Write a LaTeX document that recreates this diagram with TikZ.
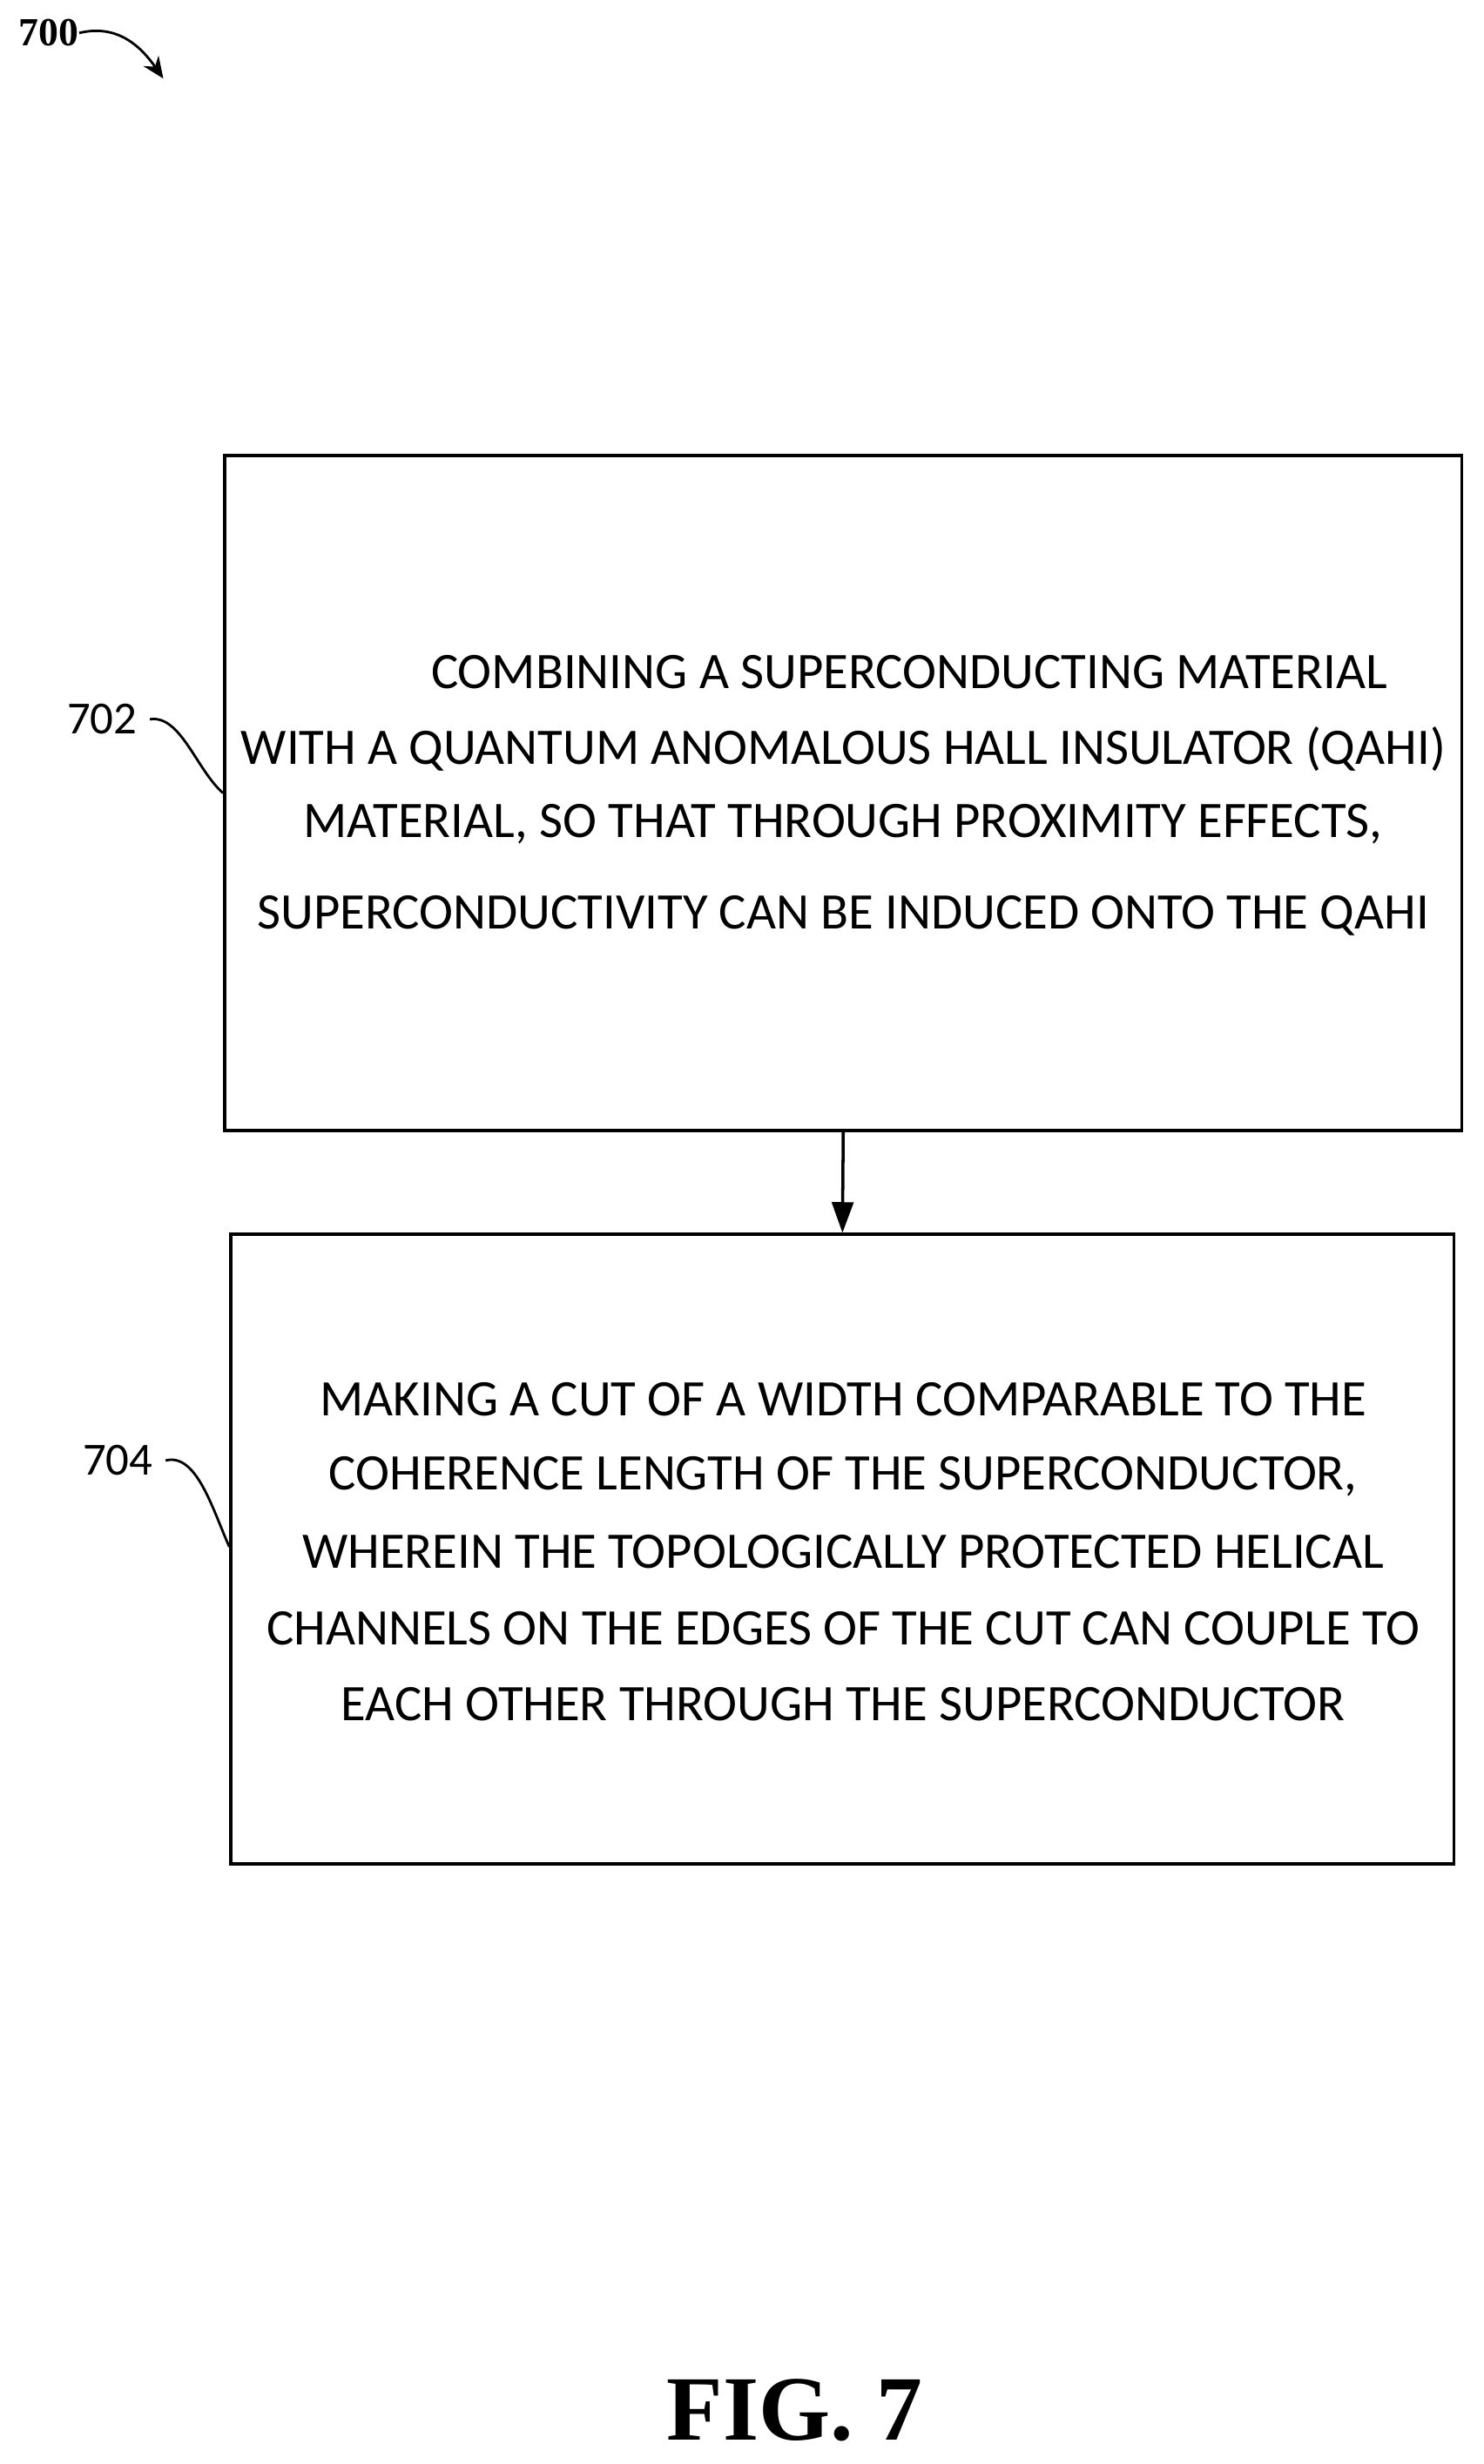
\documentclass[tikz,border=0pt]{standalone}
\usepackage{fontspec}
\setmainfont{Carlito}
\newfontfamily\serifb{Liberation Serif}
\usetikzlibrary{arrows.meta}
\begin{document}
\begin{tikzpicture}[x=0.018cm,y=-0.018cm,
  box/.style={draw,line width=1pt},
  txt/.style={font=\fontsize{16.7}{19}\selectfont,anchor=center,inner sep=0},
  lbl/.style={font=\fontsize{15}{17}\selectfont,inner sep=0},
  lead/.style={line width=0.8pt}]
\useasboundingbox (0,0) rectangle (945,1569);
\node[box,minimum width=788*0.018cm,minimum height=430*0.018cm] (b1) at (537,505) {};
\node[box,minimum width=779*0.018cm,minimum height=401*0.018cm] (b2) at (536.5,986.5) {};
\draw[line width=1pt,-{Triangle[length=10pt,width=7pt]}] (b1.south) -- (b2.north);
\node[txt] at (579,428) {COMBINING A SUPERCONDUCTING MATERIAL};
\node[txt] at (537,477) {WITH A QUANTUM ANOMALOUS HALL INSULATOR (QAHI)};
\node[txt] at (537,525) {MATERIAL, SO THAT THROUGH PROXIMITY EFFECTS,};
\node[txt] at (537,583) {SUPERCONDUCTIVITY CAN BE INDUCED ONTO THE QAHI};
\node[txt] at (537,891) {MAKING A CUT OF A WIDTH COMPARABLE TO THE};
\node[txt] at (537,940) {COHERENCE LENGTH OF THE SUPERCONDUCTOR,};
\node[txt] at (537,988) {WHEREIN THE TOPOLOGICALLY PROTECTED HELICAL};
\node[txt] at (537,1037) {CHANNELS ON THE EDGES OF THE CUT CAN COUPLE TO};
\node[txt] at (537,1085) {EACH OTHER THROUGH THE SUPERCONDUCTOR};
\node[lbl] (l702) at (65,458) {702};
\node[lbl] (l704) at (75,930) {704};
\coordinate (c1) at (b1.west);
\coordinate (c2) at (b2.west);
\draw[lead] ([xshift=4pt]l702.east) .. controls (115,455) and (125,490) .. (c1);
\draw[lead] ([xshift=4pt]l704.east) .. controls (125,925) and (135,960) .. (c2|-0,985);
\node[font=\serifb\bfseries\fontsize{13}{15}\selectfont,inner sep=0] (l700) at (31,21) {700};
\draw[line width=0.8pt,-{Stealth[length=7pt,width=6pt]}] (l700.east) .. controls (75,15) and (90,30) .. (104,50);
\node[font=\serifb\bfseries\fontsize{30}{34}\selectfont,inner sep=0] (fig) at (506,1535) {FIG. 7};
\end{tikzpicture}
\end{document}
